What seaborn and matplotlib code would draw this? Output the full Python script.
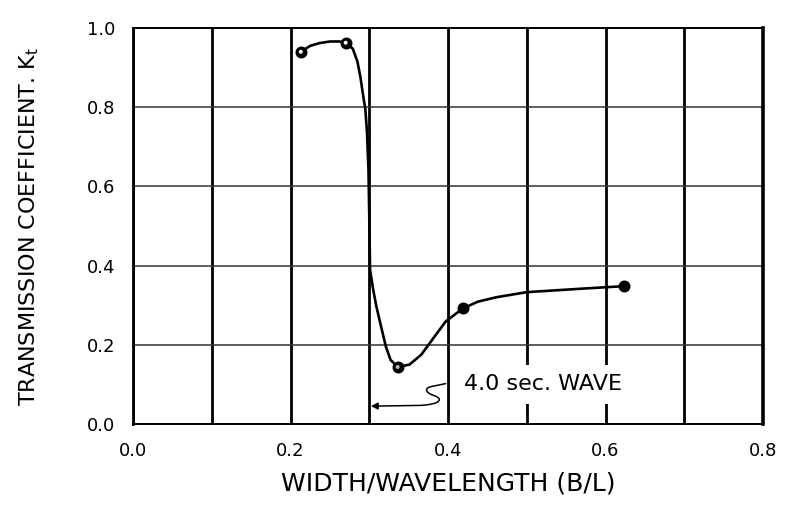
import matplotlib
matplotlib.use("Agg")
import matplotlib.pyplot as plt
import seaborn as sns
import pandas as pd
from matplotlib.path import Path
from matplotlib.patches import FancyArrowPatch
from matplotlib.ticker import MultipleLocator

# measured points (B/L, Kt)
point_x = [0.213, 0.270, 0.336, 0.419, 0.623]
point_y = [0.940, 0.963, 0.144, 0.292, 0.348]

# hand-drawn fitted curve
curve_x = [0.213, 0.225, 0.237, 0.250, 0.262, 0.270, 0.279, 0.285, 0.289, 0.292,
           0.295, 0.297, 0.299, 0.300, 0.301, 0.305, 0.309, 0.315, 0.321, 0.327,
           0.336, 0.351, 0.366, 0.380, 0.397, 0.419, 0.438, 0.461, 0.500, 0.540,
           0.580, 0.623]
curve_y = [0.940, 0.955, 0.962, 0.966, 0.966, 0.963, 0.948, 0.915, 0.873, 0.832,
           0.795, 0.740, 0.640, 0.520, 0.389, 0.339, 0.297, 0.246, 0.196, 0.162,
           0.144, 0.150, 0.175, 0.213, 0.259, 0.292, 0.309, 0.320, 0.333, 0.338,
           0.343, 0.348]

x_ticks = [0.0, 0.2, 0.4, 0.6, 0.8]
x_tick_labels = ["0.0", "0.2", "0.4", "0.6", "0.8"]
y_ticks = [0.0, 0.2, 0.4, 0.6, 0.8, 1.0]
y_tick_labels = ["0.0", "0.2", "0.4", "0.6", "0.8", "1.0"]

annotation_text = "4.0 sec. WAVE"
x_label = "WIDTH/WAVELENGTH (B/L)"
y_label = r"TRANSMISSION COEFFICIENT. K$_\mathregular{t}$"

sns.set_style("white")
plt.rcParams["font.family"] = ["DejaVu Sans"]
plt.rcParams["text.color"] = "black"
plt.rcParams["axes.labelcolor"] = "black"
plt.rcParams["xtick.color"] = "black"
plt.rcParams["ytick.color"] = "black"

fig = plt.figure(figsize=(7.89, 5.16), dpi=100)
ax = fig.add_axes([0.1686, 0.1783, 0.7985, 0.7674])

curve_df = pd.DataFrame({"x": curve_x, "y": curve_y})
pts_df = pd.DataFrame({"x": point_x, "y": point_y})

sns.lineplot(data=curve_df, x="x", y="y", sort=False, estimator=None,
             color="black", lw=1.9, ax=ax, zorder=4,
             solid_joinstyle="round", solid_capstyle="round")
sns.scatterplot(data=pts_df, x="x", y="y", ax=ax, s=55, zorder=5,
                color="black", edgecolor="black", linewidth=1.2)
# light centres on the first three markers (as drawn)
ax.scatter(point_x[:3], point_y[:3], s=8, color=["white", "white", "#bbbbbb"],
           zorder=6, linewidths=0)

ax.set_xlim(0, 0.8)
ax.set_ylim(0, 1.0)
ax.set_xticks(x_ticks)
ax.set_xticklabels(x_tick_labels)
ax.set_yticks(y_ticks)
ax.set_yticklabels(y_tick_labels)
ax.xaxis.set_minor_locator(MultipleLocator(0.1))

ax.set_axisbelow(True)
ax.grid(axis="x", which="both", color="black", lw=2.0)
ax.grid(axis="y", which="major", color="#333333", lw=1.1)

ax.tick_params(axis="both", which="major", length=5, width=1.2, color="black",
               labelsize=13, pad=8)
ax.tick_params(axis="x", which="minor", length=0)

for side, lw in (("left", 2.0), ("bottom", 1.4), ("right", 2.6), ("top", 1.4)):
    ax.spines[side].set_visible(True)
    ax.spines[side].set_color("black")
    ax.spines[side].set_linewidth(lw)

ax.set_xlabel(x_label, fontsize=18, labelpad=8)
ax.set_ylabel(y_label, fontsize=16, labelpad=33)

ax.text(0.42, 0.1, annotation_text, fontsize=16, va="center", ha="left",
        zorder=3, bbox=dict(facecolor="white", edgecolor="none", pad=7))

verts = [(0.397, 0.102), (0.380, 0.095),
         (0.370, 0.092), (0.370, 0.080), (0.382, 0.072),
         (0.394, 0.064), (0.392, 0.050), (0.365, 0.047),
         (0.302, 0.045)]
codes = [Path.MOVETO, Path.LINETO,
         Path.CURVE4, Path.CURVE4, Path.CURVE4,
         Path.CURVE4, Path.CURVE4, Path.CURVE4,
         Path.LINETO]
arrow = FancyArrowPatch(path=Path(verts, codes), arrowstyle="-|>",
                        mutation_scale=10, color="black", lw=1.1, zorder=4)
ax.add_patch(arrow)

fig.savefig("out.png", dpi=100)
